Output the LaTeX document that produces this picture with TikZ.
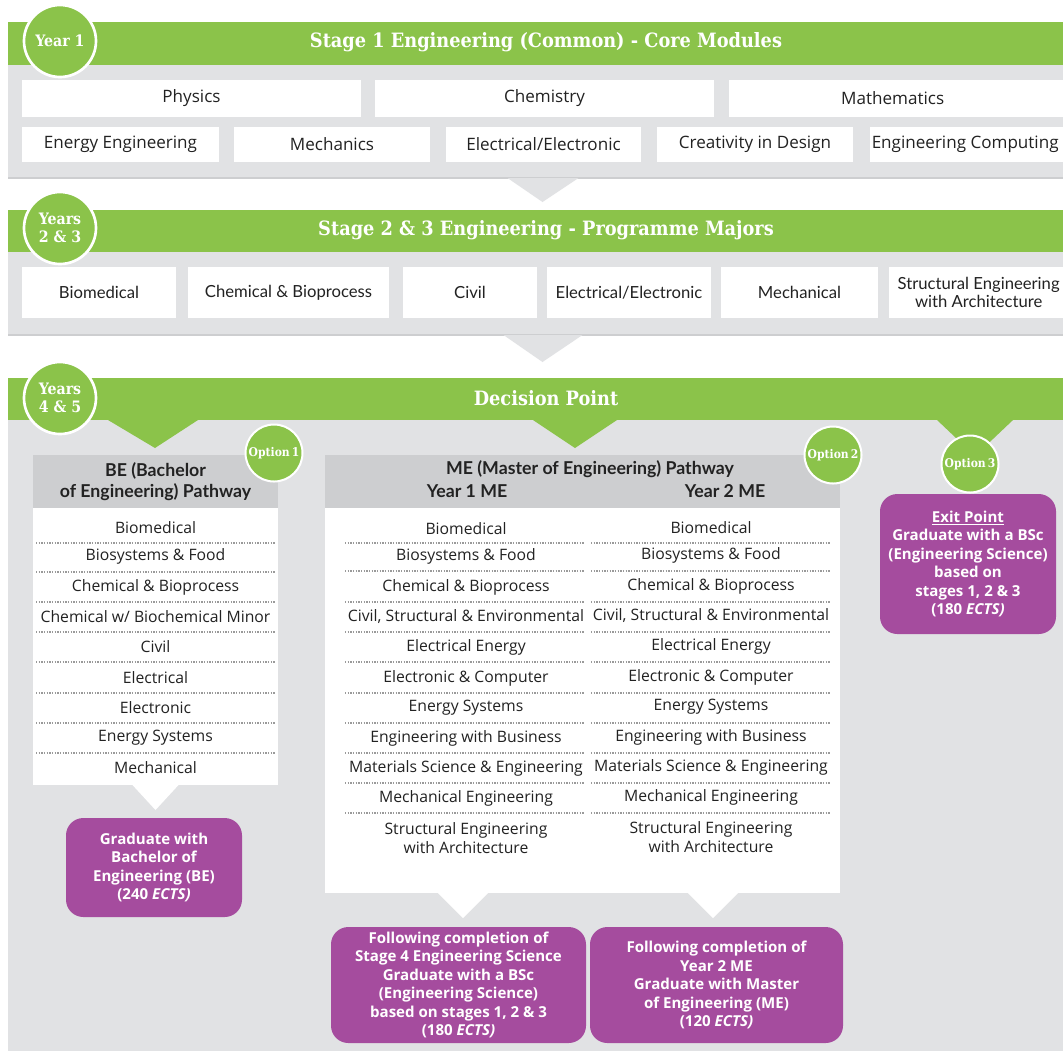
\documentclass[tikz,border=0pt]{standalone}
\usepackage{fontspec}
\setmainfont{Open Sans}
\newfontfamily\slab{DejaVu Serif Condensed}
\newfontfamily\lato{Lato}
\usetikzlibrary{calc}
\definecolor{grn}{HTML}{8BC34A}
\definecolor{pnl}{HTML}{E1E2E4}
\definecolor{hdr}{HTML}{CDCED0}
\definecolor{prp}{HTML}{A54C9E}
\definecolor{txt}{HTML}{222222}
\definecolor{dotc}{HTML}{9A9A9A}
\newcommand\bx[7]{\node[#7, minimum width={(#4-#2)*0.75pt}, minimum height={(#5-#3)*0.75pt}] (#1) at ({(#2+#4)/2},{(#3+#5)/2}) {#6};}
\tikzset{
  base/.style={inner sep=0pt, outer sep=0pt, align=center},
  bar/.style={base, fill=grn},
  panel/.style={base, fill=pnl},
  wbox/.style={base, fill=white, text=txt, font=\fontsize{12.8}{14}\selectfont},
  wboxb/.style={base, fill=white, text=txt, font=\lato\fontsize{12.5}{14}\selectfont},
  hbox/.style={base, fill=hdr, text=txt, font=\lato\bfseries\fontsize{13.3}{15.8}\selectfont},
  lbox/.style={base, fill=white},
  pbox/.style={base, fill=prp, rounded corners=13pt, text=white, font=\bfseries\fontsize{11.3}{13.9}\selectfont},
  bartitle/.style={base, text=white, font=\slab\bfseries\fontsize{14.8}{16}\selectfont},
  yearc/.style={base, circle, fill=grn, draw=white, line width=2pt, text=white, minimum size={72*0.75pt}, font=\slab\bfseries\fontsize{11.8}{14}\selectfont},
  optc/.style={base, circle, fill=grn, draw=white, line width=1.5pt, text=white, minimum size={57*0.75pt}, font=\slab\bfseries\fontsize{9}{10}\selectfont},
  item/.style={base, text=txt, font=\fontsize{11.8}{14.3}\selectfont},
  sep/.style={dotc, line width=1pt, dash pattern=on 1pt off 1pt},
}
\begin{document}
\begin{tikzpicture}[x=0.75pt,y=-0.75pt]
\fill[white] (0,0) rectangle (1063,1051);
\useasboundingbox (0,0) rectangle (1063,1051);

% ---------- Stage 1 ----------
\bx{panel1}{8}{65}{1063}{178}{}{panel}
\draw[hdr, line width=1pt] (panel1.south west) -- (panel1.south east);
\bx{bar1}{8}{22}{1063}{65}{}{bar}
\node[bartitle] (t1) at (546,42) {Stage 1 Engineering (Common) - Core Modules};
\node[yearc] (y1) at (60,41) {Year 1};
\bx{phy}{22}{80}{361}{117}{Physics}{wbox}
\bx{che}{375}{80}{714}{117}{Chemistry}{wbox}
\bx{mat}{729}{80}{1063}{117}{\hspace*{-5pt}Mathematics}{wbox}
\bx{ene}{22}{127}{219}{162}{Energy Engineering}{wbox}
\bx{mec}{234}{127}{430}{162}{Mechanics}{wbox}
\bx{ele}{446}{127}{641}{162}{Electrical/Electronic}{wbox}
\bx{cre}{657}{127}{853}{162}{Creativity in Design}{wbox}
\bx{com}{870}{127}{1063}{162}{\hspace*{-2pt}Engineering Computing}{wbox}
\fill[pnl] ($(panel1.south)+(-28,0)$) -- ($(panel1.south)+(43,0)$) -- ($(panel1.south)+(7,24)$) -- cycle;

% ---------- Stage 2 ----------
\bx{panel2}{8}{252}{1063}{335}{}{panel}
\draw[hdr, line width=1pt] (panel2.south west) -- (panel2.south east);
\bx{bar2}{8}{210}{1063}{252}{}{bar}
\node[bartitle] (t2) at (546,230) {Stage 2 \& 3 Engineering - Programme Majors};
\node[yearc] (y2) at (60,228) {Years\\2 \& 3};
\bx{s2a}{22}{267}{176}{318}{Biomedical}{wboxb}
\bx{s2b}{188}{267}{389}{318}{Chemical \& Bioprocess}{wboxb}
\bx{s2c}{403}{267}{537}{318}{Civil}{wboxb}
\bx{s2d}{547}{267}{711}{318}{Electrical/Electronic}{wboxb}
\bx{s2e}{721}{267}{878}{318}{Mechanical}{wboxb}
\bx{s2f}{889}{267}{1063}{318}{\hspace*{4pt}Structural Engineering\\\hspace*{4pt}with Architecture}{wboxb}
\fill[pnl] ($(panel2.south)+(-32,0)$) -- ($(panel2.south)+(47,0)$) -- ($(panel2.south)+(7,27)$) -- cycle;

% ---------- Years 4 & 5 ----------
\bx{panel3}{8}{420}{1063}{1051}{}{panel}
\bx{bar3}{8}{378}{1063}{420}{}{bar}
\node[bartitle] (t3) at (546,398) {Decision Point};
\fill[grn] (108,420) -- (198,420) -- (155,448) -- cycle;
\fill[grn] (533,420) -- (617,420) -- (575,448) -- cycle;
\fill[grn] (937,420) -- (1013,420) -- (975,456) -- cycle;
\node[yearc] (y3) at (60,398) {Years\\4 \& 5};

% BE pathway
\bx{behdr}{33}{455}{278}{508}{BE (Bachelor\\of Engineering) Pathway}{hbox}
\bx{belist}{33}{508}{278}{785}{}{lbox}
\foreach \n/\yy/\t in {1/528/Biomedical, 2/556/Biosystems \& Food, 3/587/Chemical \& Bioprocess, 4/617/{Chemical w/ Biochemical Minor}, 5/647/Civil, 6/678/Electrical, 7/708/Electronic, 8/738/Energy Systems, 9/768/Mechanical}
  \node[item] (be\n) at (155.5,\yy) {\t};
\foreach \yy in {543,572,602,632,662,693,723,753}
  \draw[sep] (36,\yy) -- (275,\yy);
\node[optc] (op1) at (274,453) {Option\,1};
\fill[white] ($(belist.south)+(-23,0)$) -- ($(belist.south)+(23,0)$) -- ($(belist.south)+(0,25)$) -- cycle;
\bx{bepurp}{66}{818}{242}{917}{Graduate with\\Bachelor of\\Engineering (BE)\\(240 \textit{ECTS)}}{pbox}

% ME pathway
\bx{mehdr}{325}{455}{840}{508}{}{hbox}
\node[hbox, fill=none] (metitle) at (590,469) {ME (Master of Engineering) Pathway};
\node[hbox, fill=none] (mey1) at (467,491) {Year 1 ME};
\node[hbox, fill=none] (mey2) at (725,491) {Year 2 ME};
\bx{melist}{325}{508}{840}{893}{}{lbox}
\foreach \n/\yy/\t in {1/529/Biomedical, 2/556/Biosystems \& Food, 3/587/Chemical \& Bioprocess, 4/617/{Civil, Structural \& Environmental}, 5/647/Electrical Energy, 6/678/Electronic \& Computer, 7/708/Energy Systems, 8/738/Engineering with Business, 9/768/Materials Science \& Engineering, 10/798/Mechanical Engineering, 11/838/Structural Engineering\\with Architecture}
  {\node[item] (mea\n) at (466,\yy) {\t};
   \node[item] (meb\n) at (711,\yy-1) {\t};}
\foreach \yy in {543,571,602,632,662,693,723,753,783,813}
  {\draw[sep] (345,\yy) -- (585,\yy);
   \draw[sep] (591,\yy) -- (830,\yy);}
\node[optc] (op2) at (833,455) {Option\,2};
\coordinate (tipa) at (463,918);
\coordinate (tipb) at (713,918);
\fill[white] (tipa |- melist.south) ++(-25,0) -- ++(50,0) -- (tipa) -- cycle;
\fill[white] (tipb |- melist.south) ++(-25,0) -- ++(50,0) -- (tipb) -- cycle;
\bx{mepa}{331}{927}{586}{1043}{Following completion of\\Stage 4 Engineering Science\\Graduate with a BSc\\(Engineering Science)\\based on stages 1, 2 \& 3\\(180 \textit{ECTS)}}{pbox}
\bx{mepb}{590}{927}{843}{1043}{Following completion of\\Year 2 ME\\Graduate with Master\\of Engineering (ME)\\(120 \textit{ECTS)}}{pbox}

% Exit point
\bx{exit}{880}{494}{1056}{634}{\underline{Exit Point}\\Graduate with a BSc\\(Engineering Science)\\based on\\stages 1, 2 \& 3\\(180 \textit{ECTS)}}{pbox}
\node[optc] (op3) at (970,464) {Option\,3};
\end{tikzpicture}
\end{document}
